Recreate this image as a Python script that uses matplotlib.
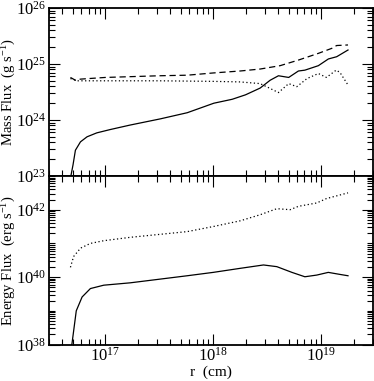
"""
Flux de masse et d'energie en fonction du rayon
"""

import numpy as np
import matplotlib
matplotlib.use('Agg')
import matplotlib.pyplot as plt
from matplotlib.ticker import LogLocator, FixedLocator, LogFormatterSciNotation, NullFormatter

plt.rcParams['font.family'] = ['Liberation Serif', 'DejaVu Serif']
plt.rcParams['mathtext.fontset'] = 'custom'
plt.rcParams['mathtext.rm'] = 'Liberation Serif'
plt.rcParams['mathtext.it'] = 'Liberation Serif:italic'
plt.rcParams['font.size'] = 10

# === DONNEES (log10 du rayon en cm, log10 du flux) ===
# Flux de masse (g/s)
mass_solid_logr = [16.67, 16.70, 16.722, 16.769, 16.83, 16.92, 17.046, 17.23, 17.509, 17.759,
                   18.006, 18.176, 18.30, 18.435, 18.528, 18.605, 18.70, 18.79, 18.85,
                   18.975, 19.068, 19.145, 19.25]
mass_solid_logf = [22.9, 23.2, 23.46, 23.61, 23.70, 23.77, 23.83, 23.91, 24.02, 24.13,
                   24.30, 24.37, 24.45, 24.57, 24.71, 24.79, 24.76, 24.875, 24.89,
                   24.97, 25.09, 25.13, 25.25]

mass_dash_logr = [16.676, 16.722, 16.77, 17.0, 17.5, 17.759, 18.0, 18.25, 18.435,
                  18.62, 18.79, 18.975, 19.1, 19.145, 19.25]
mass_dash_logf = [24.76, 24.71, 24.73, 24.76, 24.79, 24.80, 24.84, 24.875, 24.91,
                  24.97, 25.07, 25.19, 25.28, 25.33, 25.34]

mass_dot_logr = [16.676, 16.74, 17.0, 17.5, 18.0, 18.25, 18.435, 18.51, 18.605, 18.70,
                 18.775, 18.87, 18.975, 19.05, 19.14, 19.175, 19.25]
mass_dot_logf = [24.74, 24.70, 24.70, 24.70, 24.69, 24.68, 24.65, 24.58, 24.49, 24.65,
                 24.595, 24.74, 24.83, 24.76, 24.89, 24.85, 24.625]

# Flux d'energie (erg/s)
energy_solid_logr = [16.67, 16.69, 16.73, 16.784, 16.861, 16.985, 17.23, 17.759, 18.0,
                     18.25, 18.466, 18.59, 18.73, 18.85, 18.96, 19.067, 19.175, 19.25]
energy_solid_loge = [37.8, 38.02, 39.0, 39.41, 39.66, 39.76, 39.83, 40.04, 40.14,
                     40.26, 40.36, 40.31, 40.14, 40.01, 40.06, 40.14, 40.08, 40.04]

energy_dot_logr = [16.676, 16.705, 16.77, 16.861, 16.985, 17.23, 17.759, 18.0, 18.25,
                   18.435, 18.59, 18.713, 18.79, 18.96, 19.05, 19.25]
energy_dot_loge = [40.29, 40.61, 40.86, 41.0, 41.08, 41.18, 41.35, 41.5, 41.67,
                   41.85, 42.03, 42.0, 42.10, 42.20, 42.33, 42.50]


def p10(vals):
    return 10.0 ** np.array(vals)


W, H = 374, 381
fig = plt.figure(figsize=(W / 100, H / 100), dpi=100)
left, right = 49 / W, 372.5 / W
y_top, y_mid, y_bot = 1 - 8 / H, 1 - 176 / H, 1 - 344.5 / H
ax1 = fig.add_axes([left, y_mid, right - left, y_top - y_mid])
ax2 = fig.add_axes([left, y_bot, right - left, y_mid - y_bot], sharex=ax1)

lw = 0.9
# === FLUX DE MASSE ===
ax1.plot(p10(mass_solid_logr), p10(mass_solid_logf), '-', color='black', linewidth=lw)
ax1.plot(p10(mass_dash_logr), p10(mass_dash_logf), color='black', linewidth=lw,
         dashes=(5, 3))
ax1.plot(p10(mass_dot_logr), p10(mass_dot_logf), color='black', linewidth=lw,
         dashes=(1, 2))

# === FLUX D'ENERGIE ===
ax2.plot(p10(energy_solid_logr), p10(energy_solid_loge), '-', color='black', linewidth=lw)
ax2.plot(p10(energy_dot_logr), p10(energy_dot_loge), color='black', linewidth=lw,
         dashes=(1, 2))

for ax in (ax1, ax2):
    ax.set_xscale('log')
    ax.set_yscale('log')
    ax.tick_params(which='both', direction='in', top=True, right=True, width=0.8,
                   labelsize=12)
    ax.tick_params(which='major', length=8, pad=2)
    ax.tick_params(which='minor', length=4)
    for sp in ax.spines.values():
        sp.set_linewidth(1.3)

ax1.set_xlim(3e16, 3e19)
ax1.set_ylim(1e23, 1e26)
ax2.set_ylim(1e38, 1e43)

ax1.xaxis.set_major_locator(FixedLocator([1e17, 1e18, 1e19]))
ax1.xaxis.set_minor_locator(LogLocator(base=10, subs=np.arange(2, 10), numticks=50))
ax1.yaxis.set_major_locator(FixedLocator([1e23, 1e24, 1e25, 1e26]))
ax1.yaxis.set_minor_locator(LogLocator(base=10, subs=np.arange(2, 10), numticks=50))
ax2.yaxis.set_major_locator(FixedLocator([1e38, 1e40, 1e42]))
ax2.yaxis.set_minor_locator(LogLocator(base=10, subs=np.arange(1, 10), numticks=50))

for axis in (ax1.yaxis, ax2.yaxis, ax2.xaxis):
    axis.set_major_formatter(LogFormatterSciNotation())
    axis.set_minor_formatter(NullFormatter())
ax1.tick_params(labelbottom=False)

ax1.set_ylabel(r'Mass Flux  (g s$^{-1}$)', fontsize=10.5)
ax2.set_ylabel(r'Energy Flux  (erg s$^{-1}$)', fontsize=10.5)
ax1.yaxis.set_label_coords(-0.097, 0.5)
ax2.yaxis.set_label_coords(-0.097, 0.5)
ax2.set_xlabel('r  (cm)', fontsize=11, labelpad=0)

fig.savefig('out.png', dpi=100)
